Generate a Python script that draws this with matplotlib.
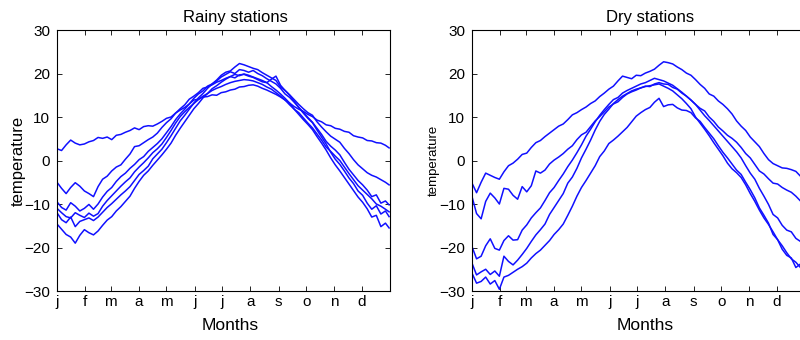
# daily temperature curves, rainy vs dry weather stations
from matplotlib import pyplot as plt
import numpy as np

plt.rcParams['font.family'] = ['Liberation Sans', 'DejaVu Sans']

# sample days (readings every 5 days off the original curves, plus the last day)
days = np.append(np.arange(0, 365, 5), 364)

month_starts = [0, 31, 59, 90, 120, 151, 181, 212, 243, 273, 304, 334]
month_labels = ['j', 'f', 'm', 'a', 'm', 'j', 'j', 'a', 's', 'o', 'n', 'd']
y_ticks = [-30, -20, -10, 0, 10, 20, 30]

# rainy stations
rainy_1 = [2.7, 2.3, 3.6, 4.7, 4.0, 3.6, 3.8, 4.3, 4.6, 5.3,
           5.1, 5.4, 4.8, 5.8, 6.0, 6.5, 6.9, 7.5, 7.1, 7.8,
           8.0, 7.9, 8.4, 9.0, 9.7, 10.0, 10.9, 11.6, 12.2, 13.0,
           13.9, 14.1, 14.6, 14.7, 15.1, 15.0, 15.6, 15.8, 16.2, 16.4,
           16.9, 17.0, 17.3, 17.4, 17.1, 16.6, 16.2, 15.7, 15.2, 14.6,
           13.9, 13.2, 12.4, 11.8, 11.3, 10.6, 10.1, 9.3, 8.9, 8.2,
           8.0, 7.4, 7.2, 6.7, 6.5, 5.7, 5.4, 5.2, 4.6, 4.5,
           4.1, 4.0, 3.5, 2.9]
rainy_2 = [-5.0, -6.4, -7.6, -6.2, -5.1, -5.9, -7.0, -7.6, -8.3, -6.0,
           -4.3, -3.6, -2.4, -1.5, -1.0, 0.3, 1.5, 3.2, 3.4, 4.1,
           4.8, 5.4, 6.3, 7.6, 8.7, 9.6, 10.9, 11.9, 12.8, 14.1,
           14.8, 15.6, 16.6, 16.9, 17.4, 18.0, 18.4, 18.9, 19.3, 19.0,
           19.7, 19.8, 19.4, 19.1, 18.6, 18.1, 17.9, 18.7, 19.4, 17.3,
           16.1, 15.1, 14.0, 12.9, 11.9, 11.0, 10.4, 8.9, 7.7, 6.6,
           5.6, 4.9, 4.2, 2.8, 1.6, 0.2, -1.0, -1.9, -2.8, -3.4,
           -3.8, -4.4, -5.0, -5.6]
rainy_3 = [-9.5, -10.8, -11.4, -9.7, -10.5, -11.6, -11.0, -10.1, -11.2, -10.0,
           -8.4, -7.1, -6.2, -4.8, -3.7, -2.9, -1.8, -0.9, 0.2, 0.9,
           2.1, 3.0, 3.9, 5.0, 6.4, 7.8, 9.4, 10.7, 11.8, 13.0,
           14.3, 15.3, 16.0, 17.1, 17.6, 18.3, 19.2, 19.8, 20.4, 20.0,
           20.9, 20.7, 20.3, 20.7, 20.0, 19.5, 18.8, 18.2, 17.6, 16.6,
           15.3, 14.5, 13.4, 12.2, 11.1, 9.9, 8.8, 7.4, 6.0, 4.4,
           3.3, 2.4, 1.3, -0.4, -2.0, -3.3, -4.6, -5.6, -6.8, -8.3,
           -7.9, -9.8, -9.3, -10.2]
rainy_4 = [-11.0, -12.0, -12.9, -13.2, -12.0, -12.6, -13.1, -12.1, -12.8, -12.2,
           -10.5, -9.2, -8.1, -7.0, -5.9, -4.9, -4.0, -2.6, -1.5, -0.5,
           0.6, 1.8, 2.7, 3.8, 5.3, 6.9, 8.6, 10.1, 11.2, 12.2,
           13.1, 14.0, 14.8, 15.4, 16.1, 16.6, 17.0, 17.5, 17.9, 18.2,
           18.4, 18.6, 18.5, 18.3, 17.9, 17.5, 16.9, 16.4, 15.6, 14.8,
           13.9, 12.8, 11.8, 11.0, 9.8, 8.6, 7.5, 6.1, 4.7, 3.1,
           2.1, 1.0, 0.0, -1.5, -3.0, -4.4, -5.8, -6.8, -7.8, -8.8,
           -10.0, -10.5, -11.2, -11.8]
rainy_5 = [-12.0, -13.6, -14.3, -13.0, -15.2, -14.0, -13.6, -13.2, -13.8, -13.0,
           -11.9, -10.8, -9.9, -8.9, -7.9, -7.0, -6.0, -4.6, -3.2, -2.3,
           -1.3, 0.4, 1.5, 2.6, 4.1, 5.7, 7.4, 9.1, 10.4, 11.8,
           13.2, 14.4, 15.4, 16.6, 17.6, 18.5, 19.6, 20.3, 20.6, 21.5,
           22.3, 22.0, 21.6, 21.2, 20.9, 20.2, 19.6, 19.0, 18.4, 16.9,
           16.1, 15.0, 13.6, 12.2, 10.9, 9.7, 8.7, 7.0, 5.4, 3.8,
           1.9, 0.3, -0.9, -2.4, -4.0, -5.3, -7.0, -8.0, -9.8, -11.2,
           -10.4, -12.3, -11.6, -12.9]
rainy_6 = [-14.6, -15.8, -17.0, -17.6, -19.0, -17.2, -15.9, -16.6, -17.1, -16.2,
           -14.9, -13.7, -12.9, -11.6, -10.6, -9.4, -8.2, -6.4, -4.8, -3.4,
           -2.4, -1.1, 0.1, 1.3, 2.6, 4.0, 5.8, 7.4, 8.9, 10.4,
           11.9, 13.1, 14.4, 15.4, 16.5, 17.2, 18.0, 18.7, 19.3, 19.8,
           19.5, 19.9, 19.6, 19.2, 18.8, 18.4, 17.9, 17.0, 16.2, 15.3,
           14.3, 13.2, 11.8, 10.6, 9.4, 8.3, 7.1, 5.5, 4.0, 2.4,
           0.6, -1.0, -2.4, -3.9, -5.4, -6.9, -8.4, -9.6, -11.1, -13.0,
           -12.6, -15.2, -14.4, -15.5]

# dry stations
dry_1 = [-5.2, -7.4, -5.0, -2.9, -3.4, -3.9, -4.3, -2.6, -1.2, -0.6,
         0.3, 1.4, 1.7, 3.0, 4.1, 4.6, 5.5, 6.3, 7.1, 7.9,
         8.4, 9.4, 10.5, 11.0, 11.7, 12.3, 13.1, 13.7, 14.7, 15.5,
         16.4, 17.1, 18.3, 19.4, 19.1, 18.8, 19.6, 19.5, 20.1, 20.5,
         21.0, 21.9, 22.7, 22.5, 22.2, 21.5, 20.9, 20.1, 19.6, 18.6,
         17.5, 16.6, 15.3, 14.8, 13.7, 12.9, 11.9, 10.7, 9.1, 7.9,
         6.9, 5.4, 4.3, 3.2, 1.6, 0.2, -0.7, -1.2, -1.7, -1.8,
         -2.1, -2.5, -3.6, -4.0]
dry_2 = [-8.3, -12.2, -13.4, -9.4, -7.5, -8.6, -10.0, -6.4, -6.6, -8.0,
         -8.9, -6.0, -7.2, -5.8, -2.4, -2.9, -2.2, -0.8, 0.1, 0.8,
         1.6, 2.6, 3.4, 4.8, 5.9, 6.5, 7.8, 9.1, 10.1, 11.2,
         12.3, 13.0, 13.5, 14.5, 15.3, 15.8, 16.2, 16.7, 17.1, 17.0,
         17.6, 17.9, 17.6, 17.5, 16.8, 16.4, 15.5, 14.8, 13.9, 12.9,
         12.0, 11.4, 10.0, 9.0, 7.7, 6.8, 5.8, 5.1, 4.2, 3.0,
         1.6, 0.6, -0.9, -2.4, -3.1, -4.2, -5.2, -5.4, -6.2, -6.8,
         -7.3, -8.2, -9.3, -7.0]
dry_3 = [-19.8, -22.6, -22.0, -19.6, -18.0, -20.2, -20.6, -18.4, -17.3, -18.3,
         -18.2, -16.0, -14.8, -13.2, -12.0, -10.9, -9.2, -7.4, -6.2, -4.6,
         -3.1, -1.4, 0.1, 1.8, 3.6, 5.6, 7.2, 8.9, 10.4, 11.7,
         12.9, 14.0, 14.5, 15.5, 16.1, 16.6, 17.1, 17.6, 17.9, 18.4,
         18.9, 18.6, 18.3, 17.8, 17.3, 16.5, 15.7, 14.8, 13.9, 12.9,
         11.6, 10.3, 9.2, 8.0, 6.8, 5.6, 4.4, 3.2, 2.0, 0.6,
         -1.2, -2.9, -4.3, -6.4, -8.2, -10.1, -12.4, -13.2, -14.9, -16.0,
         -16.4, -17.9, -18.6, -19.5]
dry_4 = [-23.6, -26.3, -25.6, -25.0, -26.2, -25.4, -26.6, -22.0, -23.2, -24.0,
         -22.9, -21.6, -20.2, -18.6, -17.1, -15.9, -14.6, -12.4, -10.8, -9.2,
         -7.6, -5.2, -3.8, -1.8, 0.6, 2.6, 4.7, 7.0, 9.0, 10.6,
         11.8, 13.1, 14.0, 14.8, 15.4, 16.0, 16.4, 16.7, 17.0, 17.2,
         17.4, 17.6, 17.1, 16.6, 16.0, 15.1, 14.2, 13.1, 11.9, 10.0,
         8.6, 7.2, 5.7, 4.1, 2.6, 1.1, -0.6, -1.9, -2.8, -3.9,
         -5.6, -7.6, -9.4, -11.4, -13.2, -14.7, -16.4, -18.2, -19.6, -21.2,
         -22.6, -23.4, -24.6, -25.0]
dry_5 = [-25.9, -28.2, -27.8, -26.8, -28.4, -27.6, -29.6, -26.8, -26.4, -25.7,
         -25.0, -24.4, -23.6, -22.4, -21.4, -20.6, -19.5, -18.4, -17.0, -15.9,
         -14.6, -12.6, -10.5, -8.2, -6.2, -4.6, -2.9, -1.2, 0.9, 2.2,
         3.9, 4.7, 5.6, 6.6, 7.6, 8.9, 10.2, 11.0, 11.7, 12.2,
         13.4, 14.3, 12.4, 12.8, 12.9, 12.1, 11.6, 11.5, 11.0, 9.8,
         9.0, 7.6, 6.3, 5.0, 3.4, 1.9, 0.6, -0.8, -2.2, -3.2,
         -5.0, -6.7, -8.6, -10.9, -12.6, -14.4, -17.0, -18.2, -20.4, -21.8,
         -22.4, -24.6, -23.8, -24.4]

rainy = [rainy_1, rainy_2, rainy_3, rainy_4, rainy_5, rainy_6]
dry = [dry_1, dry_2, dry_3, dry_4, dry_5]

fig = plt.figure(figsize = (8, 3.4), dpi = 100)
ax1 = fig.add_axes([0.07125, 0.1441, 0.41625, 0.7676])
ax2 = fig.add_axes([0.59, 0.1441, 0.41625, 0.7676])

def style_axes(ax, title, ylabel_size):
  ax.set_xlim(0, 365)
  ax.set_ylim(-30, 30)
  ax.set_xticks(month_starts)
  ax.set_xticklabels(month_labels)
  ax.set_yticks(y_ticks)
  ax.tick_params(direction = 'in', length = 3.5, width = 0.6, top = True, right = True, labelsize = 11)
  ax.tick_params(axis = 'x', pad = 3)
  ax.tick_params(axis = 'y', pad = 5)
  for sp in ax.spines.values():
    sp.set_linewidth(0.8)
  ax.set_title(title, fontsize = 12, x = 0.535, pad = 6)
  ax.set_xlabel('Months', fontsize = 12.5, labelpad = 0)
  ax.xaxis.set_label_coords(0.52, -0.105)
  ax.set_ylabel('temperature', fontsize = ylabel_size)

for curve in rainy:
  ax1.plot(days, curve, color = '#1010ff', linewidth = 1.1)
for curve in dry:
  ax2.plot(days, curve, color = '#1010ff', linewidth = 1.1)

style_axes(ax1, 'Rainy stations', 12)
style_axes(ax2, 'Dry stations', 9.5)
ax1.yaxis.set_label_coords(-0.093, 0.5)
ax2.yaxis.set_label_coords(-0.096, 0.5)

fig.savefig('out.png', dpi = 100)
